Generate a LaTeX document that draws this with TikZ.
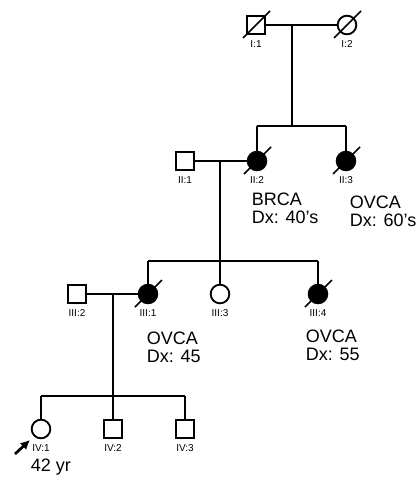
\documentclass[tikz,border=0pt]{standalone}
\usepackage{fontspec}
\setmainfont{Liberation Sans}
\usetikzlibrary{arrows.meta, positioning}

\begin{document}
\begin{tikzpicture}[x=0.75pt, y=-0.75pt, line width=1.4pt,
        every node/.style={inner sep=0pt},
        male/.style={draw, rectangle, minimum size=14pt},
        female/.style={draw, circle, minimum size=14pt},
        affected/.style={fill=black},
        idlab/.style={font=\fontsize{7.5}{8}\selectfont, below=3pt},
        note/.style={anchor=west, align=left, font=\fontsize{13.5}{13.5}\selectfont},
        slash/.style={line width=1.3pt}]
        \useasboundingbox (0,0) rectangle (418,482);

        % 第I世代
        \node[male] (i1) at (256,25) {};
        \node[female] (i2) at (347,25) {};
        \node[idlab] at (i1.south) {I:1};
        \node[idlab] at (i2.south) {I:2};
        \coordinate (m1) at (292,25);
        \coordinate (s1) at (292,126);
        \coordinate (s1l) at (257,126);
        \coordinate (s1r) at (346,126);
        \path (i1) edge (i2);
        \path (m1) edge (s1);
        \draw (s1l) -- (s1r);

        % 第II世代
        \node[male] (ii1) at (185,161) {};
        \node[female, affected] (ii2) at (257,161) {};
        \node[female, affected] (ii3) at (346,161) {};
        \node[idlab] at (ii1.south) {II:1};
        \node[idlab] at (ii2.south) {II:2};
        \node[idlab] at (ii3.south) {II:3};
        \path (s1l) edge (ii2);
        \path (s1r) edge (ii3);
        \path (ii1) edge (ii2);
        \node[note] at (251,208) {BRCA\\Dx: 40's};
        \node[note] at (349,211) {OVCA\\Dx: 60's};
        \coordinate (m2) at (220,161);
        \coordinate (s2) at (220,261);
        \coordinate (s2l) at (148,261);
        \coordinate (s2r) at (318,261);
        \path (m2) edge (s2);
        \draw (s2l) -- (s2r);

        % 第III世代
        \node[male] (iii2) at (77,294) {};
        \node[female, affected] (iii1) at (148,294) {};
        \node[female] (iii3) at (220,294) {};
        \node[female, affected] (iii4) at (318,294) {};
        \node[idlab] at (iii2.south) {III:2};
        \node[idlab] at (iii1.south) {III:1};
        \node[idlab] at (iii3.south) {III:3};
        \node[idlab] at (iii4.south) {III:4};
        \path (s2l) edge (iii1);
        \path (s2) edge (iii3);
        \path (s2r) edge (iii4);
        \path (iii2) edge (iii1);
        \node[note] at (146,347) {OVCA\\Dx: 45};
        \node[note] at (305,345) {OVCA\\Dx: 55};
        \coordinate (m3) at (113,294);
        \coordinate (s3) at (113,396);
        \coordinate (s3l) at (41,396);
        \coordinate (s3r) at (185,396);
        \path (m3) edge (s3);
        \draw (s3l) -- (s3r);

        % 第IV世代
        \node[female] (iv1) at (41,429) {};
        \node[male] (iv2) at (113,429) {};
        \node[male] (iv3) at (185,429) {};
        \node[idlab] (iv1lab) at (iv1.south) {IV:1};
        \node[idlab] at (iv2.south) {IV:2};
        \node[idlab] at (iv3.south) {IV:3};
        \path (s3l) edge (iv1);
        \path (s3) edge (iv2);
        \path (s3r) edge (iv3);
        \node[font=\fontsize{13.5}{13.5}\selectfont] at (51,467) {42 yr};

        % 発端者の矢印
        \coordinate (pa) at (15,454);
        \coordinate (pb) at (30,440);
        \draw[-{Latex[length=7pt, width=7pt]}, line width=2pt] (pa) -- (pb);

        % 死亡者の斜線
        \foreach \n in {i1, i2, ii2, ii3, iii1, iii4}
            \draw[slash] ([shift={(-13,13)}]\n.center) -- ([shift={(14,-14)}]\n.center);
\end{tikzpicture}
\end{document}
